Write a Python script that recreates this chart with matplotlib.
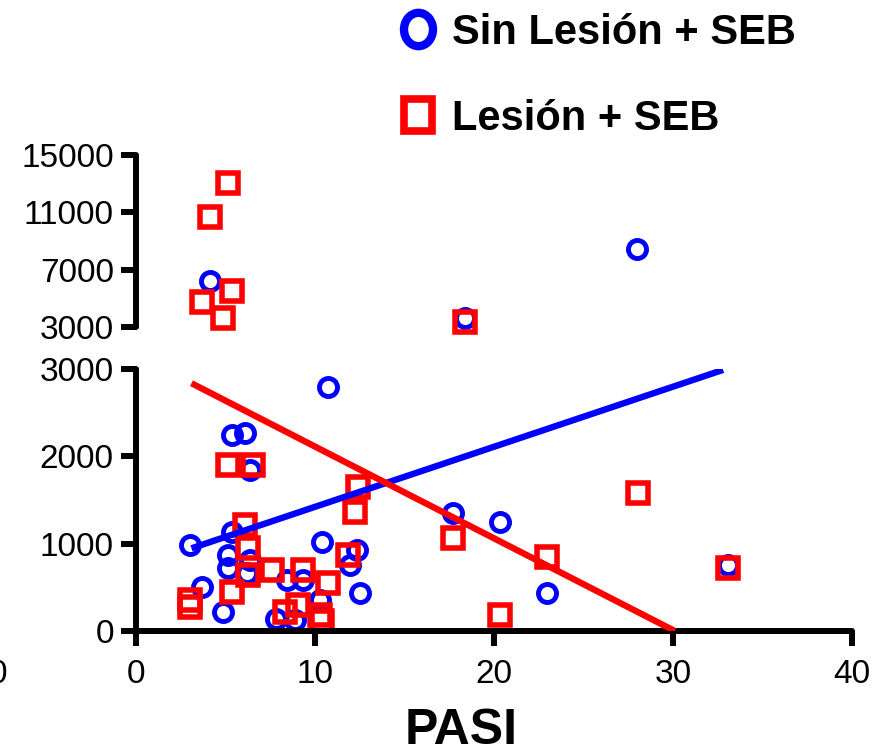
import matplotlib
matplotlib.use("Agg")
import matplotlib.pyplot as plt
from matplotlib.lines import Line2D
from matplotlib.markers import MarkerStyle
from matplotlib.transforms import Affine2D

plt.rcParams['font.family'] = ['Liberation Sans', 'DejaVu Sans']

# Sin Lesion + SEB (blue circles)
blue_x_low = [3.0, 5.35, 5.16, 5.16, 6.37, 6.18, 3.67, 4.88, 7.8, 8.9, 10.37, 12.33, 11.96,
              12.51, 8.42, 9.35, 10.3, 5.35, 6.09, 6.37, 10.7, 17.73, 20.34, 22.94, 33.09]
blue_y_low = [985, 1137, 870, 718, 813, 661, 508, 221, 135, 126, 1023, 928, 756,
              432, 584, 584, 355, 2245, 2264, 1844, 2798, 1348, 1252, 432, 756]
blue_x_high = [4.13, 28.0, 18.4]
blue_y_high = [6231, 8443, 3628]

# Lesion + SEB (red squares)
red_x_low = [6.09, 6.27, 6.27, 5.35, 3.02, 3.02, 7.6, 12.23, 11.86, 9.35, 10.74, 8.32,
             9.07, 10.28, 10.4, 12.42, 5.16, 6.55, 17.73, 22.94, 20.34, 28.06, 33.09]
red_y_low = [1214, 947, 641, 450, 360, 280, 699, 1367, 870, 699, 546, 221,
             298, 183, 115, 1653, 1901, 1901, 1062, 851, 183, 1577, 718]
red_x_high = [5.16, 4.13, 5.35, 3.67, 4.88, 18.4]
red_y_high = [13070, 10700, 5490, 4766, 3607, 3349]

# regression lines (end points)
blue_fit_x = [3.1, 32.8]
blue_fit_y = [947, 2990]
red_fit_x = [3.1, 30.1]
red_fit_y = [2837, 0]

low_ticks = [0, 1000, 2000, 3000]
high_ticks = [3000, 7000, 11000, 15000]
x_ticks = [0, 10, 20, 30, 40]

BLUE = '#0000ff'
RED = '#ff0000'

fig = plt.figure(figsize=(8.83, 7.55), dpi=100)
W, H = 883, 755
ax = fig.add_axes([136 / W, 1 - 631 / H, 716 / W, 262 / H])
ax2 = fig.add_axes([136 / W, 1 - 327 / H, 716 / W, 172 / H], sharex=ax)

circ = dict(marker='o', ls='none', ms=13, mfc='none', mec=BLUE, mew=3.5, clip_on=False)
sq = dict(marker='s', ls='none', ms=14, mfc='none', mec=RED, mew=4.0, clip_on=False,
          solid_joinstyle='round')

ax.plot(blue_fit_x, blue_fit_y, color=BLUE, lw=4.6, solid_capstyle='butt', zorder=3)
ax.plot(red_fit_x, red_fit_y, color=RED, lw=4.6, solid_capstyle='butt', zorder=3)
ax.plot(blue_x_low, blue_y_low, **circ)
ax.plot(red_x_low, red_y_low, **sq)
ax2.plot(blue_x_high, blue_y_high, **circ)
ax2.plot(red_x_high, red_y_high, **sq)

ax.set_xlim(0, 40)
ax.set_ylim(0, 3000)
ax2.set_ylim(3000, 15000)
ax.set_xticks(x_ticks)
ax.set_yticks(low_ticks)
ax2.set_yticks(high_ticks)

for a in (ax, ax2):
    for s in ('top', 'right'):
        a.spines[s].set_visible(False)
    for s in ('left', 'bottom'):
        a.spines[s].set_linewidth(4.3)
        a.spines[s].set_capstyle('round')
    a.tick_params(axis='both', length=11, width=4.3, labelsize=24, pad=5)
    a.patch.set_visible(False)

ax2.spines['bottom'].set_visible(False)
ax2.tick_params(axis='x', bottom=False, labelbottom=False)
ax.tick_params(axis='x', pad=9)

fig.text(461 / W, 1 - 744 / H, 'PASI', fontsize=36, fontweight='bold', ha='center', va='baseline')
fig.text(7 / W, 1 - 683 / H, '0', fontsize=24, ha='right', va='baseline')

tall_o = MarkerStyle('o', transform=Affine2D().scale(0.87, 1.0))
tall_s = MarkerStyle('s', transform=Affine2D().scale(0.85, 1.0))
handles = [Line2D([], [], marker=tall_o, ls='none', ms=24, mfc='none', mec=BLUE, mew=6),
           Line2D([], [], marker=tall_s, ls='none', ms=23, mfc='none', mec=RED, mew=5.5,
                  solid_joinstyle='round')]
fig.legend(handles, ['Sin Lesión + SEB', 'Lesión + SEB'], loc='upper left',
           bbox_to_anchor=(380 / W, 1 + 4 / H), frameon=False,
           prop={'size': 30, 'weight': 'bold'}, handletextpad=0.33, handlelength=1.0,
           labelspacing=1.1, borderaxespad=0)

fig.savefig('out.png', dpi=100)
